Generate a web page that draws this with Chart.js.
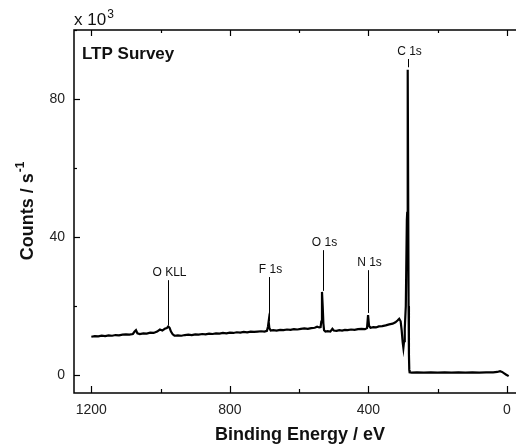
<!DOCTYPE html>
<html>
<head>
<meta charset="utf-8">
<script src="https://cdn.jsdelivr.net/npm/chart.js@4.4.0/dist/chart.umd.min.js"></script>
<style>
html, body { margin: 0; padding: 0; background: #fff; overflow: hidden; }
#wrap { width: 516px; height: 446px; overflow: hidden; }
</style>
</head>
<body>
<div id="wrap"><canvas id="survey-chart" width="530" height="446"></canvas></div>
<script>
// LTP survey spectrum - counts in 10^3 / s
const energy = [1200,1190,1180,1170,1160,1150,1140,1130,1120,1110,1100,1090,1080,
  1075,1071,1067,1060,1050,1040,1030,1020,1010,1002,995,988,982,978,974,970,965,960,
  950,940,930,920,910,900,890,880,870,860,850,840,830,820,810,800,790,780,770,760,750,
  740,730,720,710,700,693,690,688,686,682,675,665,655,645,635,625,615,605,595,585,575,
  565,555,548,542,538,536,534,532,530,528,524,518,510,504,500,492,484,476,468,460,450,
  440,430,420,410,404,401,398,394,386,378,370,360,350,340,330,322,316,311,307,304,301,
  299,297,295,292,289,288,287,286,284,283,282,281,275,260,240,220,200,180,
  160,140,120,100,80,60,40,28,20,14,8,2,-5];
const counts = [11.1,11.3,11.2,11.4,11.3,11.5,11.4,11.6,11.5,11.7,11.8,11.7,11.9,
  12.6,13.0,12.1,11.9,12.1,12.0,12.3,12.2,12.6,13.2,12.9,13.4,13.6,14.1,13.7,12.6,11.8,11.4,
  11.5,11.4,11.6,11.7,11.6,11.8,11.7,11.9,11.8,12.0,11.9,12.1,12.0,12.2,12.1,12.3,12.2,12.4,12.3,12.5,12.4,
  12.6,12.5,12.6,12.7,12.6,12.8,14.0,15.5,13.6,12.9,13.0,12.9,13.1,13.0,13.2,13.1,13.3,13.2,13.4,13.5,13.4,
  13.6,13.7,14.0,13.8,13.9,15.5,24.1,20.0,15.0,13.0,12.6,12.7,12.6,13.4,12.9,12.8,13.0,12.9,13.1,13.0,13.2,
  13.1,13.3,13.4,13.3,13.6,17.4,14.2,13.7,13.9,13.8,14.1,14.2,14.4,14.7,14.9,15.3,15.8,16.3,15.6,13.0,9.5,
  7.9,9.8,13.5,20.0,45.0,47.0,88.5,88.0,20.0,6.0,1.5,0.8,0.7,0.8,0.7,0.8,0.7,0.8,
  0.7,0.8,0.7,0.8,0.7,0.8,0.8,0.9,1.1,0.9,0.5,0.1,-0.3];

// peak labels
const peakNames = ['O KLL', 'F 1s', 'O 1s', 'N 1s', 'C 1s'];
const peakEnergy = [979, 687, 532, 400, 285];
const peakLineLow = [14.5, 15.6, 24.4, 18.0, 89.2];
const peakLineHigh = [27.5, 28.4, 36.2, 30.4, 91.6];

const xLabelTicks = [1200, 800, 400, 0];
const yLabelTicks = [0, 40, 80];

const FONT = "'Liberation Sans', Arial, sans-serif";

const points = energy.map((e, i) => ({ x: e, y: counts[i] }));

const framePlugin = {
  id: 'frame',
  afterDatasetsDraw(chart) {
    const { ctx, scales: { x, y } } = chart;
    ctx.save();
    ctx.strokeStyle = '#000';
    ctx.lineWidth = 1;
    ctx.fillStyle = '#111';
    ctx.font = '12px ' + FONT;
    ctx.textAlign = 'center';
    ctx.textBaseline = 'bottom';
    peakNames.forEach((name, i) => {
      const px = Math.round(x.getPixelForValue(peakEnergy[i])) + 0.5;
      const top = y.getPixelForValue(peakLineHigh[i]);
      ctx.beginPath();
      ctx.moveTo(px, y.getPixelForValue(peakLineLow[i]));
      ctx.lineTo(px, top);
      ctx.stroke();
      ctx.fillText(name, px + 1, top - 1);
    });
    ctx.restore();
  },
  afterDraw(chart) {
    const { ctx, chartArea: a, scales: { x, y } } = chart;
    ctx.save();
    ctx.strokeStyle = '#000';
    ctx.lineWidth = 1.5;
    ctx.strokeRect(a.left, a.top, a.right - a.left, a.bottom - a.top);
    ctx.lineWidth = 1.2;
    const seg = (x1, y1, x2, y2) => { ctx.beginPath(); ctx.moveTo(x1, y1); ctx.lineTo(x2, y2); ctx.stroke(); };
    x.ticks.forEach(t => {
      const px = Math.round(x.getPixelForValue(t.value)) + 0.5;
      const len = xLabelTicks.includes(t.value) ? 7 : 4;
      seg(px, a.bottom, px, a.bottom - len);
      seg(px, a.top, px, a.top + len - 1);
    });
    y.ticks.forEach(t => {
      const py = Math.round(y.getPixelForValue(t.value)) + 0.5;
      const len = yLabelTicks.includes(t.value) ? 6 : 3;
      seg(a.left, py, a.left + len, py);
    });

    // multiplier and panel title
    ctx.fillStyle = '#111';
    ctx.textAlign = 'left';
    ctx.textBaseline = 'alphabetic';
    ctx.font = '17px ' + FONT;
    ctx.fillText('x 10', a.left, a.top - 5);
    const w = ctx.measureText('x 10').width;
    ctx.font = '12px ' + FONT;
    ctx.fillText('3', a.left + w + 1, a.top - 12);
    ctx.font = 'bold 17px ' + FONT;
    ctx.textBaseline = 'middle';
    ctx.fillText('LTP Survey', a.left + 8, a.top + 24);

    // y axis title with superscript
    ctx.translate(28, (a.top + a.bottom) / 2);
    ctx.rotate(-Math.PI / 2);
    ctx.font = 'bold 18px ' + FONT;
    const main = 'Counts / s';
    const mw = ctx.measureText(main).width;
    ctx.font = 'bold 12px ' + FONT;
    const sw = ctx.measureText('-1').width;
    const start = -(mw + sw) / 2;
    ctx.textBaseline = 'middle';
    ctx.font = 'bold 18px ' + FONT;
    ctx.fillText(main, start, 0);
    ctx.font = 'bold 12px ' + FONT;
    ctx.fillText('-1', start + mw + 1, -7);
    ctx.restore();
  }
};

new Chart(document.getElementById('survey-chart'), {
  type: 'line',
  data: {
    datasets: [{
      data: points,
      borderColor: '#000',
      borderWidth: 2.2,
      pointRadius: 0,
      tension: 0,
      fill: false
    }]
  },
  options: {
    responsive: false,
    animation: false,
    layout: { padding: { top: 30, right: 4, left: 0, bottom: 0 } },
    plugins: { legend: { display: false }, tooltip: { enabled: false } },
    scales: {
      x: {
        type: 'linear',
        reverse: true,
        min: -55,
        max: 1250,
        grid: { display: false },
        border: { display: false },
        ticks: {
          stepSize: 200,
          includeBounds: false,
          autoSkip: false,
          maxRotation: 0,
          padding: 1,
          color: '#222',
          font: { family: FONT, size: 14 },
          callback: v => xLabelTicks.includes(v) ? v : ''
        },
        title: {
          display: true,
          text: 'Binding Energy / eV',
          color: '#111',
          font: { family: FONT, size: 18, weight: 'bold' },
          padding: { top: 0, bottom: 0 }
        },
        afterFit: s => { s.height = 53; }
      },
      y: {
        min: -5.2,
        max: 100,
        grid: { display: false },
        border: { display: false },
        ticks: {
          stepSize: 20,
          includeBounds: false,
          autoSkip: false,
          padding: 1,
          color: '#222',
          font: { family: FONT, size: 14 },
          callback: v => yLabelTicks.includes(v) ? v : ''
        },
        afterFit: s => { s.width = 74; }
      }
    }
  },
  plugins: [framePlugin]
});
</script>
</body>
</html>
